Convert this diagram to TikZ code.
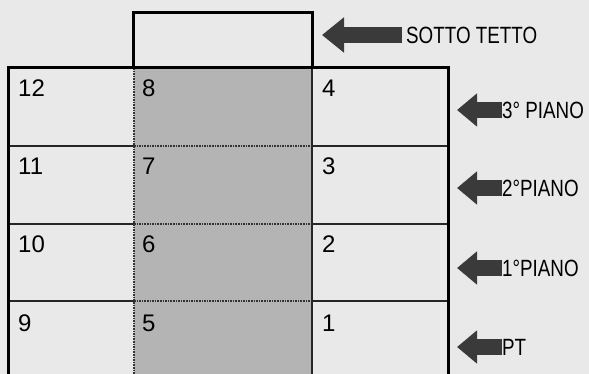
\documentclass[tikz,border=0pt]{standalone}
\usepackage{fontspec}
\usepackage{tikz}
\usetikzlibrary{positioning, arrows.meta}
\newfontfamily\numfont{Liberation Sans}
\newfontfamily\lblfont[FakeStretch=0.8]{Liberation Sans}
\definecolor{bggray}{RGB}{233, 233, 233}
\definecolor{colgray}{RGB}{180, 180, 180}
\definecolor{arrowgray}{RGB}{58, 58, 58}
\tikzset{
  outerline/.style={draw=black, line width=3pt},
  floorline/.style={draw=black!85, line width=2pt},
  midline/.style={draw=black!80, line width=1.6pt, densely dotted},
  num/.style={anchor=base west, inner sep=0pt, font=\numfont\fontsize{24}{28}\selectfont},
  lbl/.style={anchor=west, inner sep=0pt, font=\lblfont\fontsize{23.5}{27}\selectfont},
  blockarrow/.style={draw=arrowgray, line width=16pt, -{Triangle[length=22pt, width=34pt]}},
}

\begin{document}
\begin{tikzpicture}[x=1pt, y=-1pt]

\fill[bggray] (0,0) rectangle (589,374);
\useasboundingbox (0,0) rectangle (589,374);

% central column
\fill[colgray] (134,68) rectangle (312,374);

% floors
\foreach \y in {146, 224, 301} {
  \draw[floorline] (8,\y) -- (134,\y);
  \draw[midline] (134,\y) -- (312,\y);
  \draw[floorline] (312,\y) -- (448,\y);
}
\draw[midline] (134,68) -- (134,374);
\draw[floorline] (312,68) -- (312,374);

% outline and roof space
\draw[outerline] (8,374) -- (8,68) -- (448,68) -- (448,374);
\draw[outerline, fill=bggray] (133,13) rectangle (312,68);

% flat numbers
\foreach \a/\b/\c [count=\i from 0] in {12/8/4, 11/7/3, 10/6/2, 9/5/1} {
  \node[num] (n\a) at (18,97+78*\i) {\a};
  \node[num] (n\b) at (142,97+78*\i) {\b};
  \node[num] (n\c) at (322,97+78*\i) {\c};
}

% labels
\node[lbl, inner xsep=4pt] (sotto) at (402,35) {SOTTO TETTO};
\node[lbl] (terzo) at (502,110) {3° PIANO};
\node[lbl] (secondo) at (502,188) {2°PIANO};
\node[lbl] (primo) at (502,268) {1°PIANO};
\node[lbl] (pt) at (502,347) {PT};

\coordinate (sottotip) at (322,35);
\coordinate (terzotip) at (457,110);
\coordinate (secondotip) at (457,188);
\coordinate (primotip) at (457,268);
\coordinate (pttip) at (457,347);

\draw[blockarrow] (sotto.west) -- (sottotip);
\foreach \f in {terzo, secondo, primo, pt}
  \draw[blockarrow, -{Triangle[length=20pt, width=32pt]}] (\f.west) -- (\f tip);

\end{tikzpicture}
\end{document}
